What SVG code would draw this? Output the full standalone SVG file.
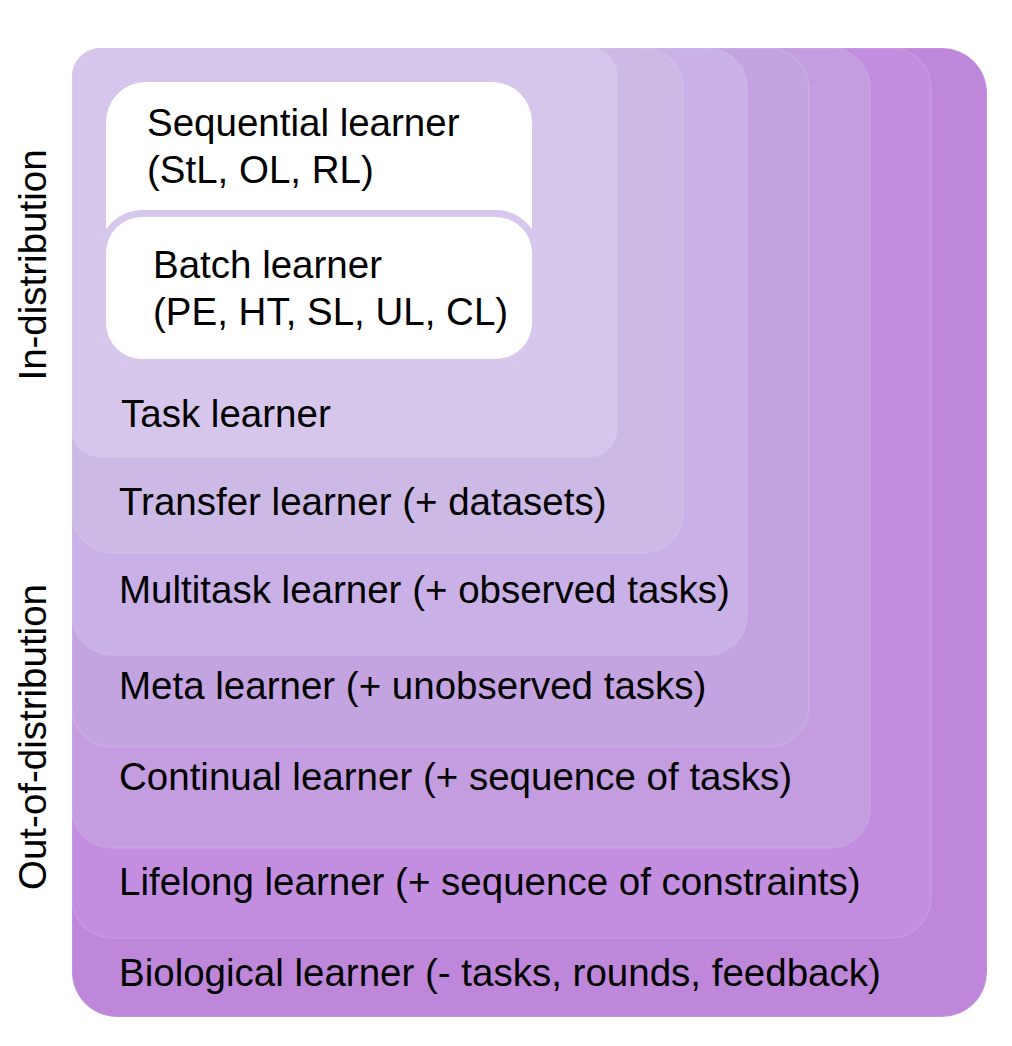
<svg xmlns="http://www.w3.org/2000/svg" width="1012" height="1046" viewBox="0 0 1012 1046">
  <style>
    .lbl { font-family: "Liberation Sans", Arial, Helvetica, sans-serif; font-size: 38.5px; fill: #000000; }
    .edge { stroke: #ffffff; stroke-opacity: 0.12; stroke-width: 1.5; }
  </style>
  <rect x="0" y="0" width="1012" height="1046" fill="#ffffff"/>

  <g id="biological-learner">
    <path class="edge" fill="#BF87DA" d="M102,48 H942 A45,45 0 0 1 987,93 V972 A45,45 0 0 1 942,1017 H117 A45,45 0 0 1 72,972 V78 A30,30 0 0 1 102,48 Z"/>
    <text class="lbl" x="119" y="986">Biological learner (- tasks, rounds, feedback)</text>
  </g>

  <g id="lifelong-learner">
    <path class="edge" fill="#C38EE0" d="M102,48 H891 A40,40 0 0 1 931,88 V898 A40,40 0 0 1 891,938 H112 A40,40 0 0 1 72,898 V78 A30,30 0 0 1 102,48 Z"/>
    <text class="lbl" x="119" y="895">Lifelong learner (+ sequence of constraints)</text>
  </g>

  <g id="continual-learner">
    <path class="edge" fill="#C49CE0" d="M102,48 H830 A40,40 0 0 1 870,88 V808 A40,40 0 0 1 830,848 H112 A40,40 0 0 1 72,808 V78 A30,30 0 0 1 102,48 Z"/>
    <text class="lbl" x="119" y="790">Continual learner (+ sequence of tasks)</text>
  </g>

  <g id="meta-learner">
    <path class="edge" fill="#C4A4E0" d="M102,48 H769 A40,40 0 0 1 809,88 V707 A40,40 0 0 1 769,747 H112 A40,40 0 0 1 72,707 V78 A30,30 0 0 1 102,48 Z"/>
    <text class="lbl" x="119" y="699">Meta learner (+ unobserved tasks)</text>
  </g>

  <g id="multitask-learner">
    <path class="edge" fill="#C9B0E6" d="M102,48 H707 A40,40 0 0 1 747,88 V615 A40,40 0 0 1 707,655 H112 A40,40 0 0 1 72,615 V78 A30,30 0 0 1 102,48 Z"/>
    <text class="lbl" x="119" y="603">Multitask learner (+ observed tasks)</text>
  </g>

  <g id="transfer-learner">
    <path class="edge" fill="#CDB9E6" d="M102,48 H643 A40,40 0 0 1 683,88 V513 A40,40 0 0 1 643,553 H112 A40,40 0 0 1 72,513 V78 A30,30 0 0 1 102,48 Z"/>
    <text class="lbl" x="119" y="515">Transfer learner (+ datasets)</text>
  </g>

  <g id="task-learner">
    <rect class="edge" x="72" y="48" width="545" height="409" rx="28" fill="#D6C6EB"/>
    <text class="lbl" x="121" y="427">Task learner</text>
  </g>

  <g id="sequential-learner">
    <rect x="106" y="82" width="426" height="200" rx="40" fill="#ffffff"/>
    <text class="lbl" x="147" y="136">Sequential learner</text>
    <text class="lbl" x="147" y="183">(StL, OL, RL)</text>
  </g>

  <g id="batch-learner">
    <rect x="99" y="210" width="440" height="156" rx="43" fill="#D7C7EC"/>
    <rect x="106" y="217" width="426" height="142" rx="36" fill="#ffffff"/>
    <text class="lbl" x="153" y="278">Batch learner</text>
    <text class="lbl" x="153" y="325">(PE, HT, SL, UL, CL)</text>
  </g>

  <g id="axis-labels">
    <text class="lbl" text-anchor="middle" transform="translate(46,265) rotate(-90)">In-distribution</text>
    <text class="lbl" text-anchor="middle" transform="translate(46,737) rotate(-90)">Out-of-distribution</text>
  </g>

  <g id="connectors"/>
</svg>
